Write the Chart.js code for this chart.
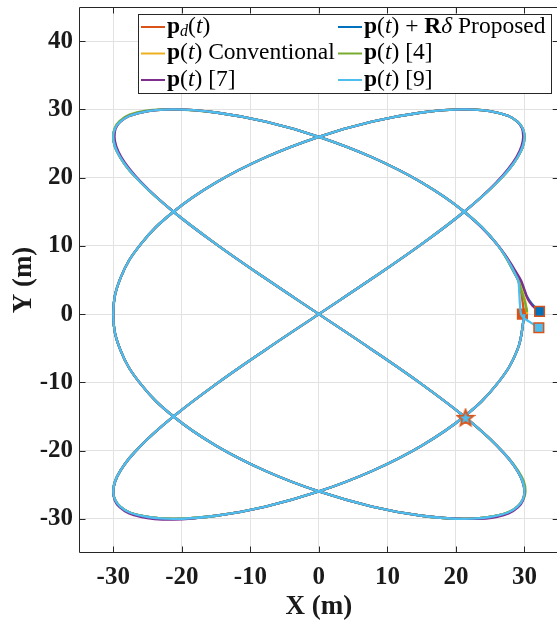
<!DOCTYPE html>
<html><head><meta charset="utf-8">
<script src="https://cdn.jsdelivr.net/npm/chart.js@4"></script>
<style>html,body{margin:0;padding:0;background:#fff}canvas{display:block}</style>
</head><body>
<canvas id="c" width="557" height="622"></canvas>
<script>
// ---- tick labels ----
const xTicks = [-30, -20, -10, 0, 10, 20, 30];
const yTicks = [-30, -20, -10, 0, 10, 20, 30, 40];

// ---- common trajectory ----
const baseX = [30, 28.98, 25.98, 21.21, 15, 7.76, 0, -7.76, -15, -21.21, -25.98, -28.98,
  -30, -28.98, -25.98, -21.21, -15, -7.76, 0, 7.76, 15, 21.21, 25.98, 28.98,
  30, 28.98, 25.98, 21.21, 15, 7.76, 0, -7.76, -15, -21.21, -25.98, -28.98,
  -30, -28.98, -25.98, -21.21, -15, -7.76, 0, 7.76, 15, 21.21, 25.98, 28.98,
  30, 28.98, 25.98, 21.21, 15, 7.76, 0, -7.76, -15, -21.21, -25.98, -28.98,
  -30, -28.98, -25.98, -21.21, -15, -7.76, 0, 7.76, 15, 21.21, 25.98, 28.98, 30];
const baseY = [0, 5.21, 10.26, 15, 19.28, 22.98, 25.98, 28.19, 29.54, 30, 29.54, 28.19,
  25.98, 22.98, 19.28, 15, 10.26, 5.21, 0, -5.21, -10.26, -15, -19.28, -22.98,
  -25.98, -28.19, -29.54, -30, -29.54, -28.19, -25.98, -22.98, -19.28, -15, -10.26, -5.21,
  0, 5.21, 10.26, 15, 19.28, 22.98, 25.98, 28.19, 29.54, 30, 29.54, 28.19,
  25.98, 22.98, 19.28, 15, 10.26, 5.21, 0, -5.21, -10.26, -15, -19.28, -22.98,
  -25.98, -28.19, -29.54, -30, -29.54, -28.19, -25.98, -22.98, -19.28, -15, -10.26, -5.21, 0];

// ---- path of p(t) [4] (slightly outside at some corners) ----
const ref4X = [30, 28.98, 25.98, 21.21, 15, 7.76, 0, -7.76, -15, -21.21, -26.02, -29.09,
  -30, -28.98, -25.98, -21.21, -15, -7.76, 0, 7.76, 15, 21.21, 25.98, 29.12,
  30.15, 28.98, 25.98, 21.21, 15, 7.76, 0, -7.76, -15, -21.21, -25.98, -28.98,
  -30, -28.98, -25.98, -21.21, -15, -7.76, 0, 7.76, 15, 21.21, 25.98, 28.98,
  30, 28.98, 25.98, 21.21, 15, 7.76, 0, -7.76, -15, -21.21, -25.98, -28.98,
  -30, -28.98, -25.98, -21.21, -15, -7.76, 0, 7.76, 15, 21.21, 25.98, 28.98, 30];
const ref4Y = [0, 5.21, 10.26, 15, 19.28, 22.98, 25.98, 28.19, 29.54, 30, 29.67, 28.3,
  25.98, 22.98, 19.28, 15, 10.26, 5.21, 0, -5.21, -10.26, -15, -19.28, -22.99,
  -25.98, -28.19, -29.54, -30, -29.54, -28.19, -25.98, -22.98, -19.28, -15, -10.26, -5.21,
  0, 5.21, 10.26, 15, 19.28, 22.98, 25.98, 28.19, 29.54, 30, 29.54, 28.19,
  25.98, 22.98, 19.28, 15, 10.26, 5.21, 0, -5.21, -10.26, -15, -19.28, -22.98,
  -25.98, -28.19, -29.54, -30, -29.54, -28.19, -25.98, -22.98, -19.28, -15, -10.26, -5.21, 0];

// ---- path of p(t) [7] (deviates slightly at the four corners) ----
const ref7X = [30, 28.98, 25.98, 21.21, 15, 7.76, 0, -7.76, -15, -21.21, -25.98, -28.98,
  -29.82, -28.85, -25.91, -21.21, -15, -7.76, 0, 7.76, 15, 21.21, 25.98, 28.98,
  30, 29.08, 26.02, 21.21, 15, 7.76, 0, -7.76, -15, -21.21, -25.98, -28.98,
  -30, -28.98, -25.98, -21.21, -15, -7.76, 0, 7.76, 15, 21.21, 25.98, 28.98,
  29.82, 28.85, 25.91, 21.21, 15, 7.76, 0, -7.76, -15, -21.21, -25.98, -28.98,
  -30, -29.08, -26.02, -21.21, -15, -7.76, 0, 7.76, 15, 21.21, 25.98, 28.98, 30];
const ref7Y = [0, 5.21, 10.26, 15, 19.28, 22.98, 25.98, 28.19, 29.54, 30, 29.54, 28.19,
  25.98, 23.06, 19.33, 15, 10.26, 5.21, 0, -5.21, -10.26, -15, -19.28, -22.98,
  -25.98, -28.3, -29.69, -30, -29.54, -28.19, -25.98, -22.98, -19.28, -15, -10.26, -5.21,
  0, 5.21, 10.26, 15, 19.28, 22.98, 25.98, 28.19, 29.54, 30, 29.54, 28.19,
  25.98, 23.06, 19.33, 15, 10.26, 5.21, 0, -5.21, -10.26, -15, -19.28, -22.98,
  -25.98, -28.3, -29.69, -30.12, -29.54, -28.19, -25.98, -22.98, -19.28, -15, -10.26, -5.21, 0];

// ---- start transients of each series ----
const pdStartX = [30];                     const pdStartY = [0];
const proposedStartX = [32.2, 31.1, 30.3, 29.7]; const proposedStartY = [0.4, 1.5, 2.7, 4.0];
const convStartX = [30.4, 30.1];           const convStartY = [0.0, 2.0];
const ref4StartX = [30.4, 30.0, 29.5];     const ref4StartY = [0.3, 2.0, 3.6];
const ref7StartX = [32.2, 31.2, 30.5, 30.0, 29.3]; const ref7StartY = [0.4, 1.2, 2.2, 3.6, 5.3];
const ref9StartX = [32.1, 30.7, 29.6, 29.35, 29.25]; const ref9StartY = [-2.0, -1.1, -0.2, 1.4, 3.0];

// ---- markers ----
const squareX = [29.7, 32.2, 32.1];
const squareY = [0, 0.4, -2.0];
const starX = [21.4];
const starY = [-15.2];

const seriesColors = ['#D95319', '#0072BD', '#EDB120', '#77AC30', '#7E2F8E', '#4DBEEE'];
const squareFill = ['#D95319', '#0072BD', '#4DBEEE'];

const legendLabels = [
  [['p','b'],['d','s'],['(','r'],['t','i'],[')','r']],
  [['p','b'],['(','r'],['t','i'],[')','r'],[' + ','r'],['R','b'],['δ','i'],[' Proposed','r']],
  [['p','b'],['(','r'],['t','i'],[')','r'],[' Conventional','r']],
  [['p','b'],['(','r'],['t','i'],[')','r'],[' [4]','r']],
  [['p','b'],['(','r'],['t','i'],[')','r'],[' [7]','r']],
  [['p','b'],['(','r'],['t','i'],[')','r'],[' [9]','r']]
];

function buildSeries(sx, sy, px, py, join) {
  const pts = sx.map((v, i) => ({x: v, y: sy[i]}));
  for (let k = join; k < px.length; k++) pts.push({x: px[k], y: py[k]});
  return pts;
}
const seriesData = [
  buildSeries(pdStartX, pdStartY, baseX, baseY, 1),
  buildSeries(proposedStartX, proposedStartY, baseX, baseY, 1),
  buildSeries(convStartX, convStartY, baseX, baseY, 1),
  buildSeries(ref4StartX, ref4StartY, ref4X, ref4Y, 1),
  buildSeries(ref7StartX, ref7StartY, ref7X, ref7Y, 2),
  buildSeries(ref9StartX, ref9StartY, baseX, baseY, 1)
];

function makeStar() {
  const c = document.createElement('canvas'); c.width = 20; c.height = 20;
  const g = c.getContext('2d');
  g.beginPath();
  for (let i = 0; i < 10; i++) {
    const r = i % 2 ? 3.6 : 8.6, a = -Math.PI / 2 + i * Math.PI / 5;
    g.lineTo(10 + r * Math.cos(a), 10.5 + r * Math.sin(a));
  }
  g.closePath();
  g.fillStyle = '#4DBEEE'; g.fill();
  g.strokeStyle = '#D95319'; g.lineWidth = 1.8; g.lineJoin = 'miter'; g.stroke();
  return c;
}

const datasets = [];
seriesData.forEach((d, i) => datasets.push({
  data: d, showLine: true, borderColor: seriesColors[i], borderWidth: 2.3,
  pointRadius: 0, tension: 0.4, fill: false, order: 20 - i
}));
datasets.push({data: [{x: squareX[0], y: squareY[0]}], showLine: false, pointStyle: 'rect',
  pointRadius: 6.8, pointBackgroundColor: squareFill[0], pointBorderColor: '#D95319', pointBorderWidth: 1.5, order: 30});
for (let i = 1; i < squareX.length; i++) {
  datasets.push({data: [{x: squareX[i], y: squareY[i]}], showLine: false, pointStyle: 'rect',
    pointRadius: 6.8, pointBackgroundColor: squareFill[i], pointBorderColor: '#D95319', pointBorderWidth: 1.5, order: 3 - i});
}
datasets.push({data: [{x: starX[0], y: starY[0]}], showLine: false, pointStyle: makeStar(), pointRadius: 10, order: 0});

const SERIF = "'Liberation Serif', 'Times New Roman', serif";

const framePlugin = {
  id: 'frame',
  afterDatasetsDraw(chart) {
    const {ctx, chartArea: a, scales: {x, y}} = chart;
    ctx.save();
    ctx.strokeStyle = '#262626'; ctx.lineWidth = 1;
    const L = Math.round(a.left) + 0.5, B = Math.round(a.bottom) - 0.5, T = Math.round(a.top) + 0.5;
    const R = x.getPixelForValue(35);
    ctx.beginPath();
    ctx.moveTo(L, T); ctx.lineTo(L, B); ctx.lineTo(R, B);
    ctx.moveTo(L, T); ctx.lineTo(R, T);
    xTicks.forEach(v => {
      const p = Math.round(x.getPixelForValue(v)) + 0.5;
      ctx.moveTo(p, B); ctx.lineTo(p, B - 6);
      ctx.moveTo(p, T); ctx.lineTo(p, T + 6);
    });
    yTicks.forEach(v => {
      const p = Math.round(y.getPixelForValue(v)) + 0.5;
      ctx.moveTo(L, p); ctx.lineTo(L + 6, p);
      ctx.moveTo(R, p); ctx.lineTo(R - 6, p);
    });
    ctx.stroke();
    ctx.fillStyle = '#1a1a1a';
    ctx.font = 'bold 27px ' + SERIF;
    ctx.textAlign = 'center'; ctx.textBaseline = 'alphabetic';
    ctx.fillText('X (m)', (a.left + R) / 2, 614);
    ctx.translate(31, (a.top + a.bottom) / 2);
    ctx.rotate(-Math.PI / 2);
    ctx.fillText('Y (m)', 0, 0);
    ctx.restore();
  },
  afterDraw(chart) {
    const ctx = chart.ctx;
    ctx.save();
    ctx.fillStyle = '#fff';
    ctx.fillRect(138, 14, 414, 80);
    ctx.strokeStyle = '#262626'; ctx.lineWidth = 1;
    ctx.strokeRect(138.5, 14.5, 413, 79);
    const colX = [141, 338], rowY = [27, 53.5, 80], size = 23.5;
    legendLabels.forEach((parts, i) => {
      const cx = colX[i % 2], ry = rowY[Math.floor(i / 2)];
      ctx.strokeStyle = seriesColors[i]; ctx.lineWidth = 2;
      ctx.beginPath(); ctx.moveTo(cx, ry); ctx.lineTo(cx + 24, ry); ctx.stroke();
      let tx = cx + 26;
      const base = ry + 5.5;
      ctx.fillStyle = '#000'; ctx.textAlign = 'left'; ctx.textBaseline = 'alphabetic';
      parts.forEach(([t, st]) => {
        let dy = 0;
        if (st === 'b') ctx.font = 'bold ' + size + 'px ' + SERIF;
        else if (st === 'i') ctx.font = 'italic ' + size + 'px ' + SERIF;
        else if (st === 's') { ctx.font = 'italic ' + Math.round(size * 0.7) + 'px ' + SERIF; dy = 3.5; }
        else ctx.font = size + 'px ' + SERIF;
        ctx.fillText(t, tx, base + dy);
        tx += ctx.measureText(t).width;
      });
    });
    ctx.restore();
  }
};

const tickFont = {family: SERIF, size: 25, weight: 'bold'};
new Chart(document.getElementById('c'), {
  type: 'scatter',
  data: {datasets},
  options: {
    responsive: false, animation: false, devicePixelRatio: 1, events: [],
    layout: {autoPadding: false, padding: {top: 7, left: 0, right: 0, bottom: 0}},
    plugins: {legend: {display: false}, tooltip: {enabled: false}},
    scales: {
      x: {
        type: 'linear', min: -35, max: 34.75,
        afterBuildTicks(s) { s.ticks = xTicks.map(v => ({value: v})); },
        afterFit(s) { s.height = 69; s.paddingLeft = 0; s.paddingRight = 0; },
        grid: {color: '#e2e2e2', lineWidth: 1, drawTicks: false},
        border: {display: false},
        ticks: {padding: 10, font: tickFont, color: '#1a1a1a', maxRotation: 0, autoSkip: false, callback: v => String(v)}
      },
      y: {
        type: 'linear', min: -35, max: 45,
        afterBuildTicks(s) { s.ticks = yTicks.map(v => ({value: v})); },
        afterFit(s) { s.width = 79; s.paddingTop = 0; s.paddingBottom = 0; },
        grid: {color: '#e2e2e2', lineWidth: 1, drawTicks: false},
        border: {display: false},
        ticks: {padding: 6, font: tickFont, color: '#1a1a1a', autoSkip: false, callback: v => String(v)}
      }
    }
  },
  plugins: [framePlugin]
});
</script>
</body></html>
